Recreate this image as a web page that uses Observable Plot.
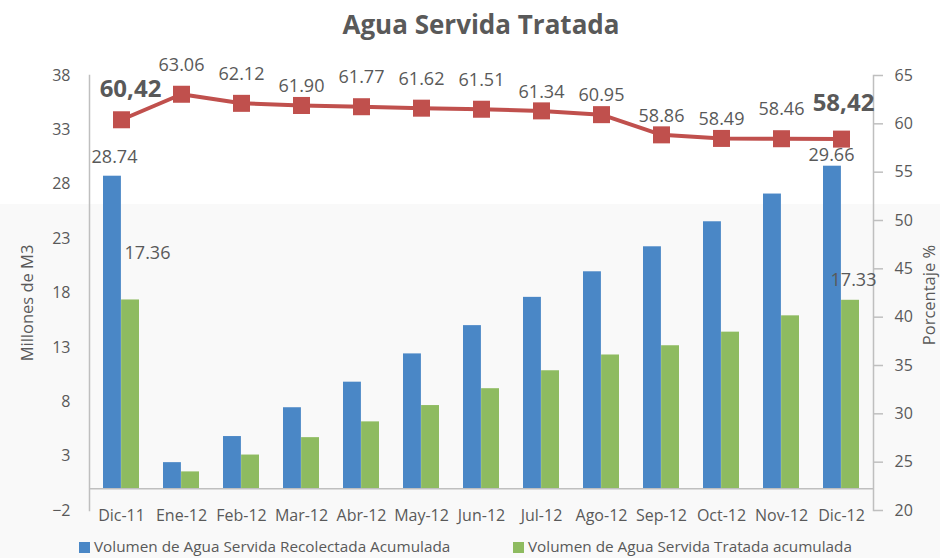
<!DOCTYPE html>
<html>
<head>
<meta charset="utf-8">
<script src="https://cdn.jsdelivr.net/npm/d3@7"></script>
<script src="https://cdn.jsdelivr.net/npm/@observablehq/plot@0.6"></script>
<style>
  html, body { margin: 0; padding: 0; }
  body {
    width: 940px; height: 558px; overflow: hidden; position: relative;
    font-family: "Open Sans", sans-serif; color: #595959;
    background: linear-gradient(to bottom, #ffffff 0px, #ffffff 204px, #f9f9f9 204px, #f9f9f9 558px);
  }
  #title {
    position: absolute; top: 7px; left: 0; width: 962px; text-align: center;
    font-size: 26px; font-weight: 700; color: #595959; line-height: 34px;
  }
  #chart { position: absolute; top: 52px; left: 0; }
  .legend { position: absolute; top: 536px; font-size: 15.3px; color: #595959; line-height: 21px; white-space: nowrap; }
  .legend .sw { display: inline-block; width: 11px; height: 11px; margin-right: 4px; vertical-align: -1px; }
</style>
</head>
<body>
<div id="title">Agua Servida Tratada</div>
<div id="chart"></div>
<div class="legend" style="left:79px"><span class="sw" style="background:#4a87c6"></span>Volumen de Agua Servida Recolectada Acumulada</div>
<div class="legend" style="left:513px"><span class="sw" style="background:#8ebb60"></span>Volumen de Agua Servida Tratada acumulada</div>
<script>
const months = ["Dic-11","Ene-12","Feb-12","Mar-12","Abr-12","May-12","Jun-12","Jul-12","Ago-12","Sep-12","Oct-12","Nov-12","Dic-12"];
const recolectada = [28.74, 2.4, 4.8, 7.45, 9.8, 12.4, 15.0, 17.6, 19.95, 22.25, 24.55, 27.1, 29.66];
const tratada = [17.36, 1.55, 3.1, 4.7, 6.15, 7.65, 9.2, 10.85, 12.3, 13.15, 14.4, 15.9, 17.33];
const porcentaje = [60.42, 63.06, 62.12, 61.90, 61.77, 61.62, 61.51, 61.34, 60.95, 58.86, 58.49, 58.46, 58.42];
const leftTicks = [-2, 3, 8, 13, 18, 23, 28, 33, 38];
const rightTicks = [20, 25, 30, 35, 40, 45, 50, 55, 60, 65];

const blue = "#4a87c6", green = "#8ebb60", red = "#c0504d", txt = "#595959", axisCol = "#bfbfbf";

// right axis (20..65) mapped onto the left scale domain (-2..38)
const toLeft = v => -2 + (v - 20) * 40 / 45;
const fromLeft = y => 20 + (y + 2) * 45 / 40;

const rows = months.map((m, i) => ({month: m, rec: recolectada[i], tra: tratada[i], pct: porcentaje[i], i}));
const first = rows.filter(d => d.i === 0);
const last = rows.filter(d => d.i === rows.length - 1);
const highLabels = rows.filter(d => [1, 2, 4, 5, 6, 11].includes(d.i));
const lowLabels = rows.filter(d => [3, 7, 8, 9, 10].includes(d.i));
const fmt = d3.format(".2f");

const plot = Plot.plot({
  width: 940,
  height: 480,
  marginLeft: 89,
  marginRight: 67,
  marginTop: 23,
  marginBottom: 22,
  style: {background: "transparent", fontFamily: "'Open Sans', sans-serif"},
  x: {domain: months, paddingInner: 0.4, paddingOuter: 0.2},
  y: {domain: [-2, 38]},
  marks: [
    Plot.barY(rows, {x: "month", y: "rec", fill: blue, insetRight: 18.1}),
    Plot.barY(rows, {x: "month", y: "tra", fill: green, insetLeft: 18.1}),
    Plot.ruleY([0], {stroke: axisCol, strokeWidth: 1.5}),
    Plot.frame({anchor: "left", stroke: axisCol, strokeWidth: 1.5}),
    Plot.frame({anchor: "right", stroke: axisCol, strokeWidth: 1.5}),
    Plot.axisY({ticks: leftTicks, tickSize: 0, tickPadding: 19, fontSize: 16, fill: txt, label: null}),
    Plot.axisY({anchor: "right", ticks: rightTicks.map(toLeft), tickFormat: d => Math.round(fromLeft(d)),
      tickSize: 9, tickPadding: 12, fontSize: 16, fill: txt, stroke: axisCol, strokeWidth: 1.5, label: null}),
    Plot.axisX({tickSize: 0, tickPadding: -1, fontSize: 16, fill: txt, label: null}),
    Plot.line(rows, {x: "month", y: d => toLeft(d.pct), stroke: red, strokeWidth: 4}),
    Plot.dot(rows, {x: "month", y: d => toLeft(d.pct), symbol: "square", r: 9.6, fill: red}),
    Plot.text(highLabels, {x: "month", y: d => toLeft(d.pct), text: d => fmt(d.pct), dy: -29, fontSize: 18, fill: txt}),
    Plot.text(lowLabels, {x: "month", y: d => toLeft(d.pct), text: d => fmt(d.pct), dy: -19, fontSize: 18, fill: txt}),
    Plot.text(first, {x: "month", y: d => toLeft(d.pct), text: d => fmt(d.pct).replace(".", ","), dx: 9, dy: -30, fontSize: 24, fontWeight: "bold", fill: txt}),
    Plot.text(last, {x: "month", y: d => toLeft(d.pct), text: d => fmt(d.pct).replace(".", ","), dx: 2, dy: -36, fontSize: 24, fontWeight: "bold", fill: txt}),
    Plot.text(first, {x: "month", y: "rec", text: d => fmt(d.rec), dx: -7, dy: -19, fontSize: 18, fill: txt}),
    Plot.text(last, {x: "month", y: "rec", text: d => fmt(d.rec), dx: -10, dy: -11, fontSize: 18, fill: txt}),
    Plot.text(first, {x: "month", y: "tra", text: d => fmt(d.tra), dx: 26, dy: -47, fontSize: 18, fill: txt}),
    Plot.text(last, {x: "month", y: "tra", text: d => fmt(d.tra), dx: 12, dy: -20, fontSize: 18, fill: txt}),
    Plot.text(["Millones de M3"], {frameAnchor: "left", textAnchor: "middle", text: d => d, dx: -62, dy: 10, rotate: -90, fontSize: 16.5, fill: txt}),
    Plot.text(["Porcentaje %"], {frameAnchor: "right", textAnchor: "middle", text: d => d, dx: 56, dy: 2, rotate: -90, fontSize: 16.5, fill: txt})
  ]
});
document.getElementById("chart").appendChild(plot);
</script>
</body>
</html>
